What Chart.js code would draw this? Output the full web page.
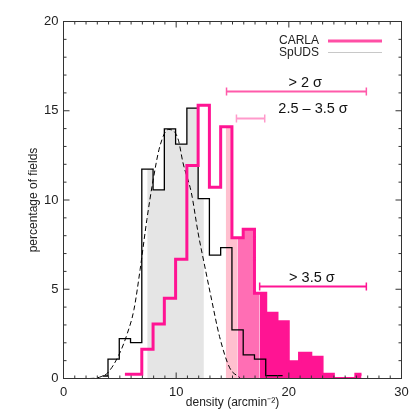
<!DOCTYPE html>
<html>
<head>
<meta charset="utf-8">
<script src="https://cdn.jsdelivr.net/npm/chart.js@4.4.1/dist/chart.umd.min.js"></script>
<style>
  body { margin: 0; background: #fff; }
  canvas { display: block; }
</style>
</head>
<body>
<canvas id="densityChart" width="420" height="420"></canvas>
<script>
// bin centres (arcmin^-2) and percentage of fields
var carlaDensity = [5.45, 6.45, 7.45, 8.45, 9.45, 10.45, 11.45, 12.45, 13.45, 14.45, 15.45,
	16.45, 17.45, 18.45, 19.45, 20.45, 21.45, 22.45, 23.45, 24.45, 25.45, 26.45];
var carlaPct = [0.24, 0.24, 1.64, 3.05, 4.50, 6.68, 11.93, 15.31, 10.72, 14.11, 7.88,
	8.36, 4.78, 3.65, 3.18, 0.94, 1.41, 1.19, 0.24, 0, 0, 0.24];

var spudsDensity = [3.45, 4.45, 5.45, 6.45, 7.45, 8.45, 9.45, 10.45, 11.45, 12.45, 13.45,
	14.45, 15.45, 16.45, 17.45, 18.45, 19.45];
var spudsPct = [0.14, 1.09, 2.23, 2.01, 11.73, 10.57, 13.99, 13.13, 15.15, 10.08, 6.91,
	7.33, 2.72, 1.32, 1.08, 0.16, 0.16];

// dashed gaussian fit to the field distribution
var gaussDensity = [2.3, 2.85, 3.4, 3.9, 4.9, 5.65, 6.25, 6.8, 7.4, 7.95, 8.55, 9.3, 9.7,
	10.2, 10.6, 11.35, 11.95, 12.55, 13.15, 13.85, 14.75, 15.65];
var gaussPct = [0, 0.02, 0.12, 0.3, 1.3, 2.5, 3.85, 6.1, 8.9, 11.1, 13.0, 13.95, 13.9,
	13.35, 12.1, 10.4, 8.15, 6.25, 4.4, 2.35, 0.6, 0.05];

// shaded density ranges
var spudsShade = [7.43, 12.46];
var carlaShade = [14.4, 15.44, 17.41, 26.45];

// overdensity ranges drawn as capped bars
var rangeLabels = ['> 2 \u03c3', '2.5 \u2013 3.5 \u03c3', '> 3.5 \u03c3'];
var rangeFrom = [14.47, 15.35, 17.41];
var rangeTo = [26.88, 17.86, 26.88];
var rangeLevel = [16.08, 14.56, 5.15];

var seriesNames = ['CARLA', 'SpUDS'];

var FONT = '"Liberation Sans", Arial, Helvetica, sans-serif';
var PINK = '#ff1493';

function toPoints(xs, ys) {
	return xs.map(function(x, i) { return { x: x, y: ys[i] }; });
}

// part of a histogram between two densities, as edge points for a stepped fill
function stepArea(centres, values, from, to) {
	var pts = [];
	centres.forEach(function(c, i) {
		var l = Math.max(c - 0.5, from);
		var r = Math.min(c + 0.5, to);
		if (l < r) pts.push({ x: l, y: values[i] });
	});
	pts.push({ x: to, y: pts[pts.length - 1].y });
	return pts;
}

function shade(points, colour) {
	return {
		data: points,
		stepped: true,
		borderWidth: 0,
		pointRadius: 0,
		backgroundColor: colour,
		fill: 'origin',
		order: 10
	};
}

function rangeBar(i, colour) {
	return {
		data: [{ x: rangeFrom[i], y: rangeLevel[i] }, { x: rangeTo[i], y: rangeLevel[i] }],
		borderColor: colour,
		borderWidth: 2,
		pointStyle: 'line',
		rotation: 90,
		pointRadius: 4,
		pointBorderColor: colour,
		pointBorderWidth: 1.5,
		fill: false,
		order: 1
	};
}

var frameAndText = {
	id: 'frameAndText',
	afterDatasetsDraw: function(chart) {
		var ctx = chart.ctx, a = chart.chartArea;
		var sx = chart.scales.x, sy = chart.scales.y;
		var v, p, len;

		ctx.save();
		ctx.strokeStyle = '#333';
		ctx.lineWidth = 1;
		ctx.strokeRect(a.left, a.top, a.right - a.left, a.bottom - a.top);
		ctx.beginPath();
		for (v = 0; v <= 30; v++) {
			p = sx.getPixelForValue(v);
			len = v % 10 === 0 ? 6 : 3;
			ctx.moveTo(p, a.bottom); ctx.lineTo(p, a.bottom - len);
			ctx.moveTo(p, a.top); ctx.lineTo(p, a.top + len);
		}
		for (v = 0; v <= 20; v++) {
			p = sy.getPixelForValue(v);
			len = v % 5 === 0 ? 6 : 3;
			ctx.moveTo(a.left, p); ctx.lineTo(a.left + len, p);
			ctx.moveTo(a.right, p); ctx.lineTo(a.right - len, p);
		}
		ctx.stroke();

		// range labels
		var labelAt = [[21.45, 16.55], [22.15, 15.09], [22.05, 5.62]];
		ctx.fillStyle = '#111';
		ctx.font = '14.5px ' + FONT;
		ctx.textAlign = 'center';
		ctx.textBaseline = 'middle';
		rangeLabels.forEach(function(t, i) {
			ctx.fillText(t, sx.getPixelForValue(labelAt[i][0]), sy.getPixelForValue(labelAt[i][1]));
		});

		// legend
		ctx.font = '12px ' + FONT;
		ctx.textAlign = 'right';
		ctx.fillStyle = '#222';
		ctx.fillText(seriesNames[0], 319, 41);
		ctx.fillText(seriesNames[1], 319, 53);
		ctx.lineWidth = 3;
		ctx.strokeStyle = '#ff4fa5';
		ctx.beginPath(); ctx.moveTo(328, 41); ctx.lineTo(382, 41); ctx.stroke();
		ctx.lineWidth = 1.2;
		ctx.strokeStyle = '#c8c8c8';
		ctx.beginPath(); ctx.moveTo(328, 52.5); ctx.lineTo(382, 52.5); ctx.stroke();
		ctx.restore();
	}
};

(function() {
	var ctx = document.getElementById('densityChart').getContext('2d');
	Chart.defaults.font.family = FONT;
	Chart.defaults.color = '#222';

	new Chart(ctx, {
		type: 'line',
		data: {
			datasets: [
				shade(stepArea(spudsDensity, spudsPct, spudsShade[0], spudsShade[1]), '#e5e5e5'),
				shade(stepArea(carlaDensity, carlaPct, carlaShade[0], carlaShade[1]), '#ffc0cf'),
				shade(stepArea(carlaDensity, carlaPct, carlaShade[1], carlaShade[2]), '#ff6eb4'),
				shade(stepArea(carlaDensity, carlaPct, carlaShade[2], carlaShade[3]), PINK),
				{
					label: seriesNames[1],
					data: toPoints(spudsDensity, spudsPct),
					stepped: 'middle',
					borderColor: '#000',
					borderWidth: 1.3,
					pointRadius: 0,
					fill: false,
					order: 4
				},
				{
					data: toPoints(gaussDensity, gaussPct),
					cubicInterpolationMode: 'monotone',
					borderColor: '#000',
					borderWidth: 1,
					borderDash: [5, 3],
					pointRadius: 0,
					fill: false,
					order: 3
				},
				{
					label: seriesNames[0],
					data: toPoints(carlaDensity, carlaPct),
					stepped: 'middle',
					borderColor: PINK,
					borderWidth: 3,
					pointRadius: 0,
					fill: false,
					order: 2
				},
				rangeBar(0, '#ff5aaa'),
				rangeBar(1, '#ff9acb'),
				rangeBar(2, PINK)
			]
		},
		options: {
			responsive: false,
			animation: false,
			devicePixelRatio: 1,
			layout: { padding: { top: 21.5, right: 18.5, bottom: 0, left: 0 } },
			plugins: {
				legend: { display: false },
				tooltip: { enabled: false }
			},
			scales: {
				x: {
					type: 'linear',
					min: 0,
					max: 30,
					grid: { display: false, drawTicks: false },
					border: { display: false },
					ticks: { stepSize: 10, padding: 6, font: { size: 13 }, color: '#222' },
					title: {
						display: true,
						text: 'density (arcmin\u207b\u00b2)',
						font: { size: 12 },
						color: '#222',
						padding: { top: 0, bottom: 10 }
					},
					afterFit: function(scale) { scale.height = 41.5; }
				},
				y: {
					min: 0,
					max: 20,
					grid: { display: false, drawTicks: false },
					border: { display: false },
					ticks: { stepSize: 5, padding: 5, font: { size: 13 }, color: '#222' },
					title: {
						display: true,
						text: 'percentage of fields',
						font: { size: 12 },
						color: '#222',
						padding: { top: 26, bottom: 0 }
					},
					afterFit: function(scale) { scale.width = 63.5; }
				}
			}
		},
		plugins: [frameAndText]
	});
}());
</script>
</body>
</html>
